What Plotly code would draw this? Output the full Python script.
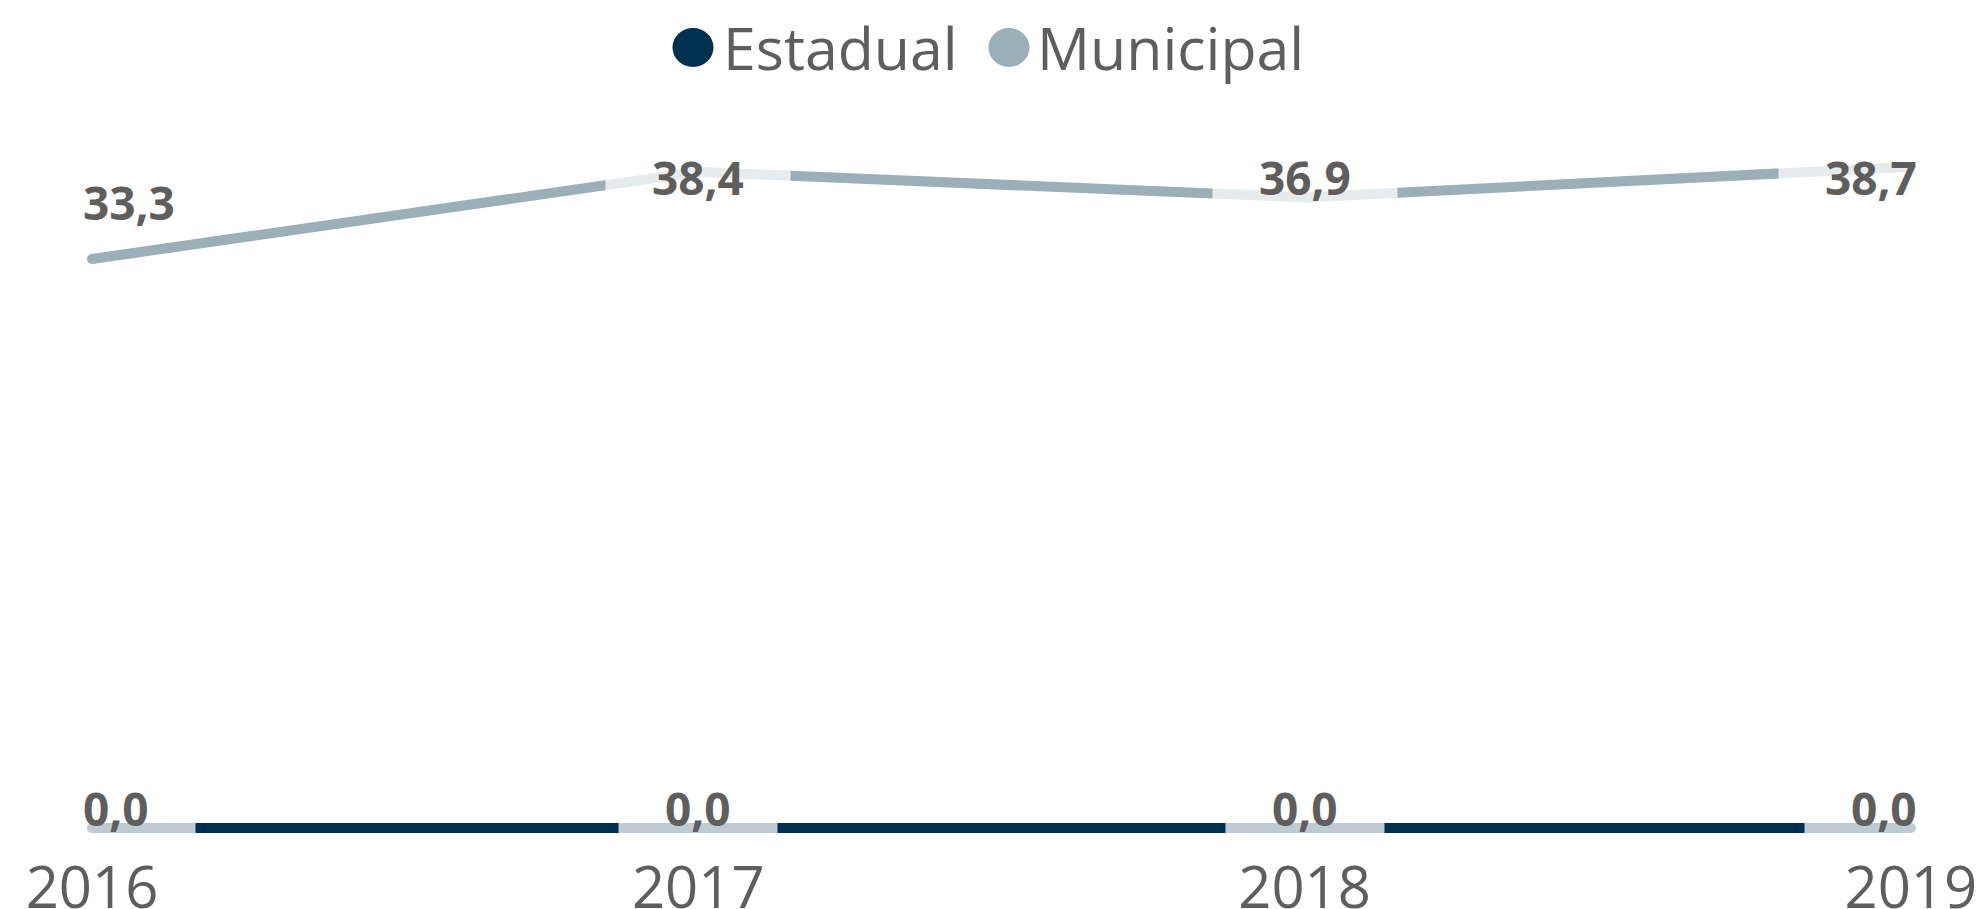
import plotly.graph_objects as go

# ---- data ----
years = ["2016", "2017", "2018", "2019"]
estadual = [0.0, 0.0, 0.0, 0.0]
municipal = [33.3, 38.4, 36.9, 38.7]
series_names = ["Estadual", "Municipal"]
series_colors = ["#00304F", "#9BAFB8"]

# ---- layout constants ----
W, H = 1983, 909
M_L, M_R, M_T, M_B = 0, 0, 100, 75
PW, PH = W - M_L - M_R, H - M_T - M_B
ZERO_PX = 828            # pixel row of the value 0
PX_PER_UNIT = 17.087
TEXT = "#605E5C"
FONT = "Open Sans"
Y_RANGE = [-(H - M_B - ZERO_PX) / PX_PER_UNIT, (ZERO_PX - M_T) / PX_PER_UNIT]
X_RANGE = [-0.1517, 3.119]

def fmt(v):
    return f"{v:.1f}".replace(".", ",")

def paper_x(xpx):
    return (xpx - M_L) / PW

def paper_y(ypx):
    return (H - M_B - ypx) / PH

fig = go.Figure()
for name, vals, col in zip(series_names, [estadual, municipal], series_colors):
    fig.add_trace(go.Scatter(
        x=years, y=vals, name=name, mode="lines+markers",
        line=dict(color=col, width=10),
        marker=dict(color=col, size=10, line=dict(width=0)),
        cliponaxis=False, showlegend=False, hoverinfo="skip",
    ))

annotations = []
label_ceiling = (ZERO_PX - 178) / PX_PER_UNIT  # highest label centre (data units)
LABEL_SIZE = 46


def add_label(i, v, y_data, yshift):
    txt = fmt(v)
    digits = sum(c.isdigit() for c in txt)
    width = digits * 0.572 * LABEL_SIZE + 0.28 * LABEL_SIZE + 92
    if i == 0:
        xanchor, xshift = "left", -56
    elif i == len(years) - 1:
        xanchor, xshift = "right", 53
    else:
        xanchor, xshift = "center", 0
    annotations.append(dict(
        x=i, y=y_data, xref="x", yref="y", text=f"<b>{txt}</b>",
        showarrow=False, xanchor=xanchor, yanchor="middle",
        xshift=xshift, yshift=yshift, width=width, height=60,
        align="center", valign="middle",
        bgcolor="rgba(255,255,255,0.75)", borderpad=0,
        font=dict(family=FONT, size=LABEL_SIZE, color=TEXT),
    ))

for i, v in enumerate(estadual):
    add_label(i, v, v, 20)
for i, v in enumerate(municipal):
    add_label(i, v, min(v + 57 / PX_PER_UNIT, label_ceiling + 1 / PX_PER_UNIT), 0)

# custom legend (large circle markers)
shapes = []
legend_items = [(693, 721), (1009, 1035)]
for (cx, tx), name, col in zip(legend_items, series_names, series_colors):
    shapes.append(dict(
        type="circle", xref="paper", yref="paper",
        xsizemode="pixel", ysizemode="pixel",
        xanchor=paper_x(cx), yanchor=paper_y(47.5),
        x0=-20.5, x1=20.5, y0=-19.5, y1=19.5,
        fillcolor=col, line=dict(width=0),
    ))
    annotations.append(dict(
        x=paper_x(tx), y=paper_y(47), xref="paper", yref="paper",
        text=name, showarrow=False, xanchor="left", yanchor="middle",
        font=dict(family=FONT, size=59, color=TEXT),
    ))

fig.update_layout(
    width=W, height=H,
    margin=dict(l=M_L, r=M_R, t=M_T, b=M_B, pad=0, autoexpand=False),
    paper_bgcolor="white", plot_bgcolor="white",
    showlegend=False,
    annotations=annotations, shapes=shapes,
    xaxis=dict(
        type="category", range=X_RANGE, showgrid=False, zeroline=False,
        showline=False, ticks="", ticklabelstandoff=15, automargin=False,
        tickfont=dict(family=FONT, size=58, color=TEXT),
    ),
    yaxis=dict(
        range=Y_RANGE, visible=False, showgrid=False, zeroline=False,
        automargin=False,
    ),
)

fig.write_html(
    "out.html",
    config={"displayModeBar": False},
    post_script="document.body.style.margin='0';document.body.style.overflow='hidden';",
)
